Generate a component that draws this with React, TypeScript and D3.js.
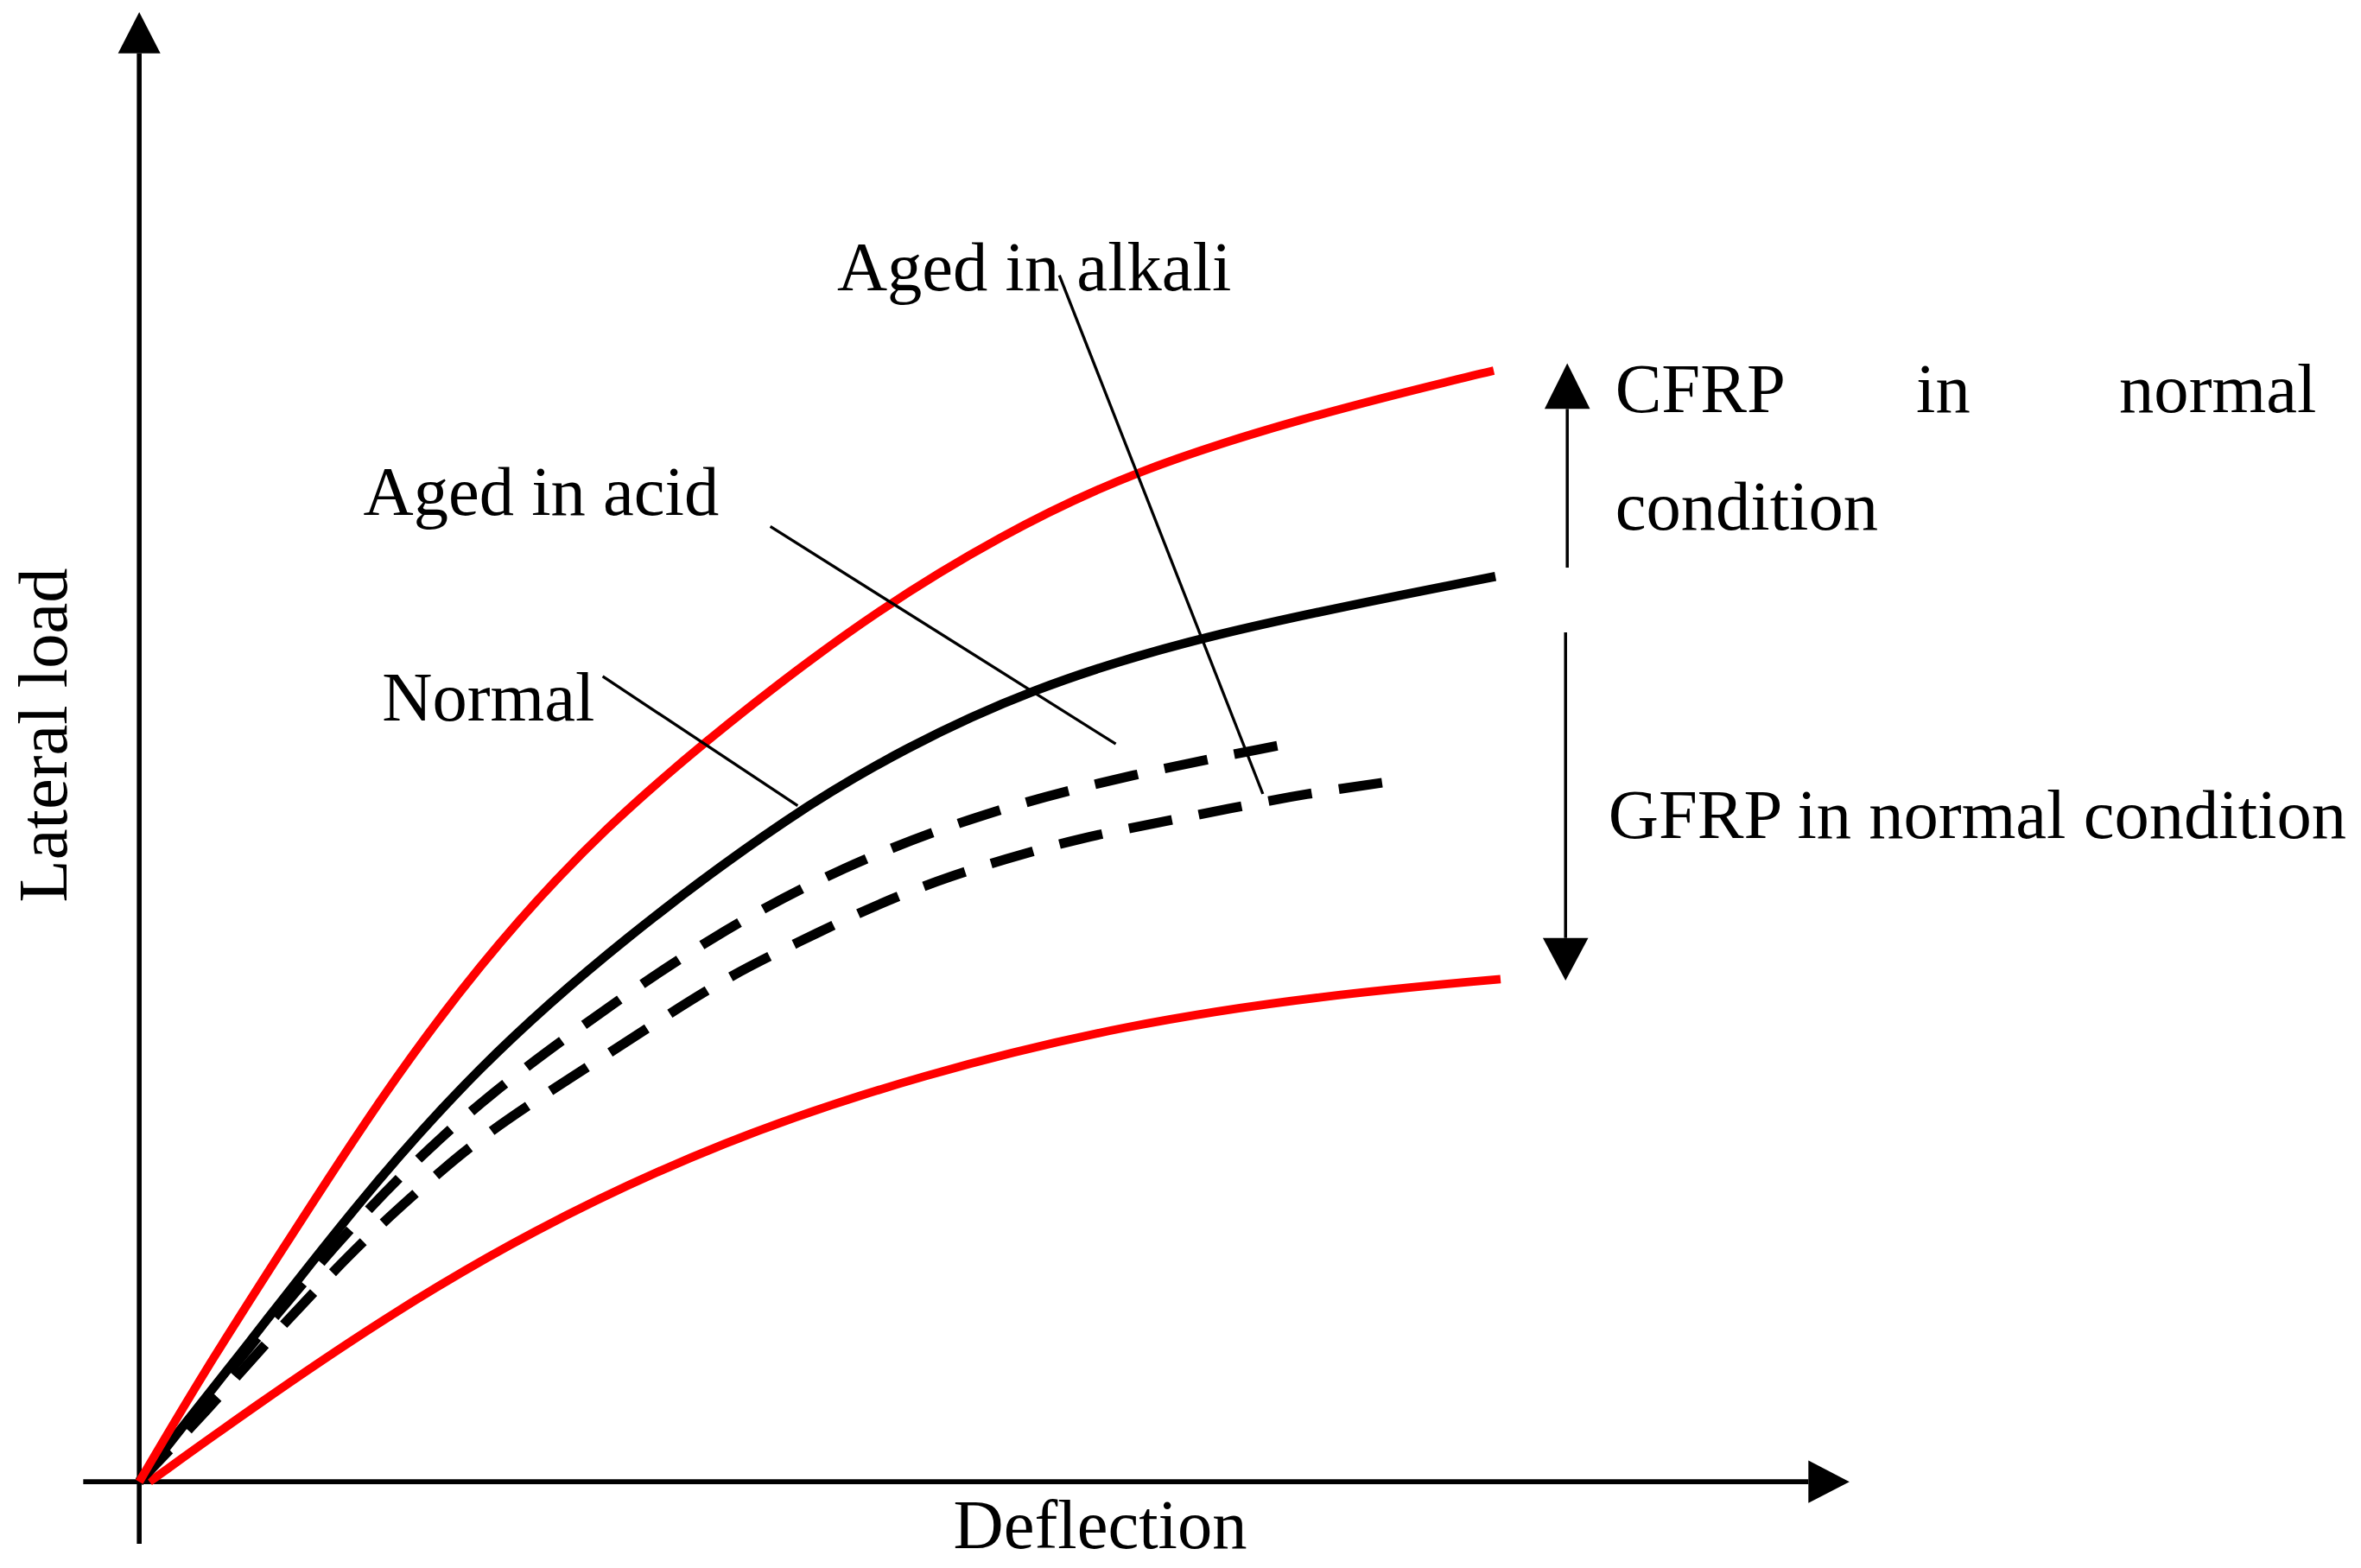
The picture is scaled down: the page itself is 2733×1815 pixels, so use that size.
import React from 'react';
import * as d3 from 'd3';

// schematic load–deflection curves (arbitrary units 0–100)
const cfrpNormal: [number, number][] = [
  [0, 0], [3.8, 7.5], [8.1, 15.3], [13.9, 25.8], [19.7, 35.0], [27.0, 44.5],
  [36.5, 53.6], [43.3, 59.4], [50.2, 64.3], [57.9, 68.7], [68.0, 72.4], [77.7, 75.2], [79.2, 75.6],
];
const gfrpNormal: [number, number][] = [
  [0, 0], [6.6, 9.7], [12.5, 18.6], [19.7, 28.2], [28.4, 37.1], [38.3, 45.6],
  [44.9, 50.0], [51.8, 53.8], [61.9, 57.6], [79.3, 61.6],
];
const gfrpAcid: [number, number][] = [
  [0, 0], [6.6, 9.4], [12.5, 17.6], [18.8, 24.9], [25.8, 31.0], [33.4, 37.1],
  [41.1, 41.9], [49.5, 45.6], [57.9, 48.1], [66.6, 50.1], [68.1, 50.4],
];
const gfrpAlkali: [number, number][] = [
  [0, 0], [4.1, 5.0], [7.0, 8.9], [10.2, 12.9], [13.1, 16.4], [16.3, 19.8], [19.7, 23.2],
  [23.5, 26.2], [27.0, 28.8], [30.8, 31.7], [34.5, 34.4], [38.5, 36.7], [42.6, 39.0],
  [46.6, 40.9], [50.7, 42.4], [55.0, 43.8], [59.4, 44.8], [63.7, 45.8], [68.1, 46.8], [73.5, 47.7],
];
const gfrpLower: [number, number][] = [
  [0.6, 0], [6.7, 5.1], [14.0, 10.9], [22.7, 17.0], [34.2, 23.3], [46.0, 27.8],
  [57.6, 31.1], [69.2, 33.1], [79.6, 34.2],
];

// labels with leader lines
const labels = ['Aged in alkali', 'Aged in acid', 'Normal'];
const labelAt: [number, number][] = [[40.8, 81.1], [13.1, 65.8], [14.2, 51.8]];
const leaderFrom: [number, number][] = [[53.8, 82.1], [36.9, 65.0], [27.1, 54.8]];
const leaderTo: [number, number][] = [[65.7, 46.8], [57.1, 50.2], [38.5, 46.0]];

const W = 1560;
const H = 1036;

export default function App() {
  const x = d3.scaleLinear().domain([0, 100]).range([92, 1222]);
  const y = d3.scaleLinear().domain([0, 100]).range([979, 8]);
  const line = d3
    .line<[number, number]>()
    .x((d) => x(d[0]))
    .y((d) => y(d[1]))
    .curve(d3.curveBasis);

  const font = { fontFamily: '"Liberation Serif", "Times New Roman", serif', fontSize: 46 };
  const x0 = x(0);
  const y0 = y(0);

  // bracket arrows on the right
  const upX = x(83.5);
  const dnX = x(83.4);

  return (
    <svg
      width={2733}
      height={1815}
      viewBox={`0 0 ${W} ${H}`}
      style={{ position: 'absolute', left: 0, top: 0, background: '#fff' }}
    >
      {/* axes */}
      <line x1={x0} x2={x0} y1={y0 + 41} y2={y(97.2)} stroke="#000" strokeWidth={3.2} />
      <path d={`M${x0},${y(100)} L${x0 - 14},${y(97.2)} L${x0 + 14},${y(97.2)} Z`} fill="#000" />
      <line x1={x0 - 37} x2={x(97.6)} y1={y0} y2={y0} stroke="#000" strokeWidth={3.2} />
      <path d={`M${x(100)},${y0} L${x(97.6)},${y0 - 14} L${x(97.6)},${y0 + 14} Z`} fill="#000" />

      {/* curves */}
      <path d={line(gfrpLower) ?? ''} fill="none" stroke="#ff0000" strokeWidth={5.6} />
      <path d={line(gfrpAlkali) ?? ''} fill="none" stroke="#000" strokeWidth={6.4} strokeDasharray="29 18" />
      <path d={line(gfrpAcid) ?? ''} fill="none" stroke="#000" strokeWidth={6.4} strokeDasharray="29 18" />
      <path d={line(gfrpNormal) ?? ''} fill="none" stroke="#000" strokeWidth={6} />
      <path d={line(cfrpNormal) ?? ''} fill="none" stroke="#ff0000" strokeWidth={5.6} />

      {/* leaders and labels */}
      {labels.map((t, i) => (
        <g key={t}>
          <line
            x1={x(leaderFrom[i][0])}
            y1={y(leaderFrom[i][1])}
            x2={x(leaderTo[i][0])}
            y2={y(leaderTo[i][1])}
            stroke="#000"
            strokeWidth={1.9}
          />
          <text x={x(labelAt[i][0])} y={y(labelAt[i][1])} {...font}>
            {t}
          </text>
        </g>
      ))}

      {/* CFRP / GFRP bracket */}
      <line x1={upX} x2={upX} y1={y(62.2)} y2={y(73.0)} stroke="#000" strokeWidth={2} />
      <path d={`M${upX},${y(76.1)} L${upX - 15},${y(73.0)} L${upX + 15},${y(73.0)} Z`} fill="#000" />
      <line x1={dnX} x2={dnX} y1={y(57.8)} y2={y(37.0)} stroke="#000" strokeWidth={2} />
      <path d={`M${dnX},${y(34.1)} L${dnX - 15},${y(37.0)} L${dnX + 15},${y(37.0)} Z`} fill="#000" />

      <text x={x(86.3)} y={y(72.8)} {...font}>CFRP</text>
      <text x={x(103.9)} y={y(72.8)} {...font}>in</text>
      <text x={x(127.3)} y={y(72.8)} textAnchor="end" {...font}>normal</text>
      <text x={x(86.3)} y={y(64.8)} {...font}>condition</text>
      <text x={x(85.9)} y={y(43.8)} {...font}>GFRP in normal condition</text>

      {/* axis titles */}
      <text x={x(47.6)} y={y(-4.5)} {...font}>Deflection</text>
      <text transform={`translate(44, ${y(50.8)}) rotate(-90)`} textAnchor="middle" {...font}>
        Lateral load
      </text>
    </svg>
  );
}
